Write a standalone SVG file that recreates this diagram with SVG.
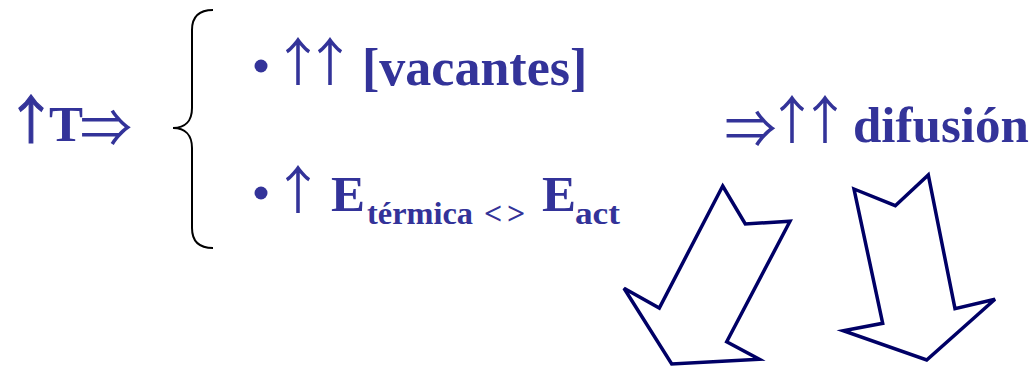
<svg xmlns="http://www.w3.org/2000/svg" width="1034" height="366" viewBox="0 0 1034 366">
<style>
.t{fill:#333399;font-family:'Liberation Serif',serif;font-weight:bold;font-size:51px}
.s{font-size:32px}
.ar{font-family:'Noto Sans CJK JP',sans-serif;font-weight:normal;font-size:52px}
.up{letter-spacing:-20px}
.dot{fill:#333399}
.outl{fill:#ffffff;stroke:#000066;stroke-width:3.5;stroke-linejoin:miter}
.brace{fill:none;stroke:#000000;stroke-width:2}
</style>
<rect width="1034" height="366" fill="#ffffff"/>
<g id="cause">
<text class="t"><tspan class="ar up" stroke="#333399" stroke-width="1.2" x="5" y="138.5">↑</tspan><tspan style="letter-spacing:-4px" x="49" y="141">T</tspan><tspan class="ar" x="80" y="147">⇒</tspan></text>
</g>
<g id="brace">
<path class="brace" d="M213,10 C199,10 192,16 192,30 L192,108 C192,121 185,128 173,128 C185,128 192,135 192,148 L192,228 C192,241 199,248 213,248"/>
</g>
<g id="item1">
<circle class="dot" cx="261" cy="66" r="6.5"/>
<text class="t"><tspan class="ar up" x="272" y="80.5">↑</tspan><tspan class="ar up" x="304" y="80.5">↑</tspan><tspan font-size="52" x="362" y="85">[vacantes]</tspan></text>
</g>
<g id="item2">
<circle class="dot" cx="261" cy="193" r="6.5"/>
<text class="t"><tspan class="ar up" x="272" y="209">↑</tspan><tspan x="331" y="211">E</tspan><tspan class="s" x="367" y="224" textLength="106" lengthAdjust="spacingAndGlyphs">térmica</tspan><tspan class="s" x="484" y="224">&lt;</tspan><tspan class="s" x="507" y="224">&gt;</tspan><tspan x="542" y="211">E</tspan><tspan class="s" x="575" y="224" textLength="45" lengthAdjust="spacingAndGlyphs">act</tspan></text>
</g>
<g id="result">
<text class="t"><tspan class="ar" style="letter-spacing:-12px" x="724.5" y="147.5">⇒</tspan><tspan class="ar up" x="766" y="138.5">↑</tspan><tspan class="ar up" x="799" y="138.5">↑</tspan><tspan x="853" y="142">difusión</tspan></text>
</g>
<g id="connectors">
<polygon class="outl" points="722.7,186 745.3,224 790,221.3 726.7,341.7 759.3,359.3 671.7,364 624,288.3 659.3,308"/>
<polygon class="outl" points="854,189 895.3,205.7 928.3,175 955,308.7 995,299.3 926.7,360 843.3,330.7 882.7,323.3"/>
</g>
</svg>
